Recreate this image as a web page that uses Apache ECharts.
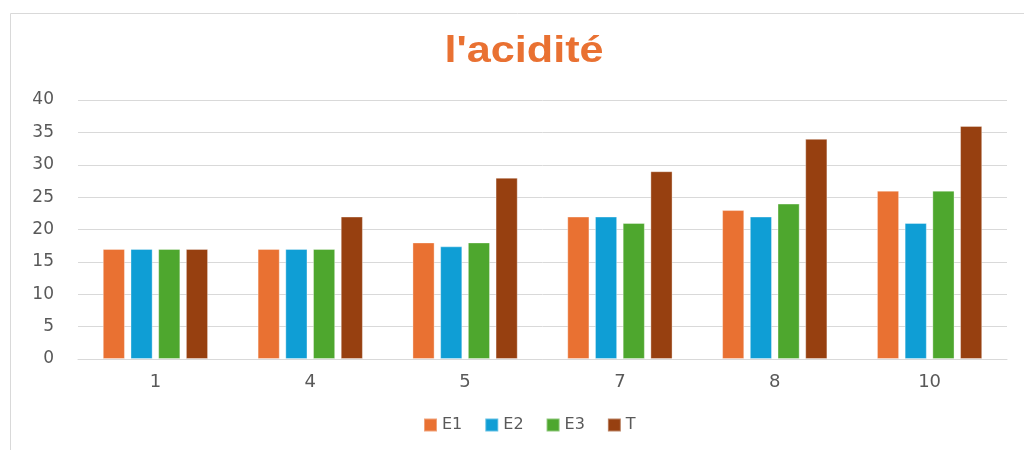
<!DOCTYPE html>
<html><head><meta charset="utf-8">
<script src="https://cdn.jsdelivr.net/npm/echarts@6/dist/echarts.min.js"></script>
<style>html,body{margin:0;padding:0;background:#fff}#c{width:1024px;height:450px}</style>
</head><body><div id="c"></div>
<script>
const titleText = "l'acidité";
const categories = ['1','4','5','7','8','10'];
const E1 = [17,17,18,22,23,26];
const E2 = [17,17,17.4,22,22,21];
const E3 = [17,17,18,21,24,26];
const T  = [17,22,28,29,34,36];
const yTicks = {min:0,max:40,interval:5};
const colors = ['#E97132','#0F9ED5','#4EA72E','#974010'];

const chart = echarts.init(document.getElementById('c'));
const mk = (name, data, color) => ({
  name, type:'bar', data,
  barGap:'25%', barCategoryGap:'32%',
  itemStyle:{color, borderColor:'rgba(255,255,255,0.35)', borderWidth:1},
  emphasis:{disabled:true}
});
chart.setOption({
  animation:false,
  graphic:[
    {type:'rect', shape:{x:10.5,y:13.5,width:1100,height:500}, style:{fill:'none',stroke:'#d9d9d9',lineWidth:1}, silent:true},
    {type:'text', x:524, y:52, scaleX:1.2, silent:true,
      style:{text:titleText, fill:'#E97132', font:'bold 36px "Liberation Sans", Arial', align:'center', verticalAlign:'middle'}}
  ],
  legend:{top:412, left:418, itemWidth:13, itemHeight:13, itemGap:22, icon:'rect',
    textStyle:{color:'#595959', fontSize:16, fontFamily:'DejaVu Sans'}},
  grid:{left:78, right:17, top:100, bottom:91, containLabel:false},
  xAxis:{type:'category', data:categories,
    axisLine:{lineStyle:{color:'#d9d9d9'}}, axisTick:{show:false},
    axisLabel:{color:'#595959', fontSize:18, margin:14, fontFamily:'DejaVu Sans'}},
  yAxis:{type:'value', min:yTicks.min, max:yTicks.max, interval:yTicks.interval,
    axisLine:{show:false}, axisTick:{show:false},
    splitLine:{lineStyle:{color:'#d9d9d9'}},
    axisLabel:{color:'#595959', fontSize:17, margin:24, fontFamily:'DejaVu Sans'}},
  series:[mk('E1',E1,colors[0]),mk('E2',E2,colors[1]),mk('E3',E3,colors[2]),mk('T',T,colors[3])]
});
</script></body></html>
